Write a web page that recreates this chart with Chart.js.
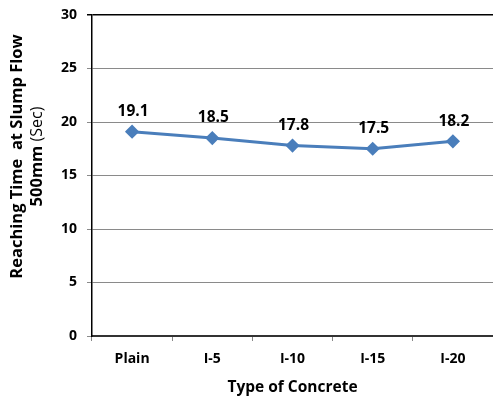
<!DOCTYPE html>
<html>
<head>
<meta charset="utf-8">
<script src="https://cdn.jsdelivr.net/npm/chart.js@4/dist/chart.umd.min.js"></script>
<style>
  html, body { margin: 0; padding: 0; background: #fff; }
  #wrap { width: 493px; height: 403px; }
</style>
</head>
<body>
<div id="wrap"><canvas id="c" width="493" height="403"></canvas></div>
<script>
  var categories = ['Plain', 'I-5', 'I-10', 'I-15', 'I-20'];
  var reachingTime = [19.1, 18.5, 17.8, 17.5, 18.2];
  var yTicks = [0, 5, 10, 15, 20, 25, 30];

  var FONT = "'Open Sans', 'DejaVu Sans', sans-serif";

  // value labels above each point
  var valueLabels = {
    id: 'valueLabels',
    afterDatasetsDraw: function (chart) {
      var ctx = chart.ctx;
      var meta = chart.getDatasetMeta(0);
      ctx.save();
      ctx.font = 'bold 15.5px ' + FONT;
      ctx.fillStyle = '#000';
      ctx.textAlign = 'center';
      ctx.textBaseline = 'middle';
      meta.data.forEach(function (pt, i) {
        ctx.fillText(reachingTime[i].toFixed(1), pt.x + 1, pt.y - 20);
      });
      ctx.restore();
    }
  };

  // rotated y title, mixed weights on the second line
  var yTitle = {
    id: 'yTitle',
    afterDraw: function (chart) {
      var ctx = chart.ctx;
      var area = chart.chartArea;
      var cy = (area.top + area.bottom) / 2 - 19;
      ctx.save();
      ctx.translate(0, cy);
      ctx.rotate(-Math.PI / 2);
      ctx.fillStyle = '#000';
      ctx.textBaseline = 'middle';
      ctx.textAlign = 'center';
      ctx.font = 'bold 16.5px ' + FONT;
      ctx.fillText('Reaching Time  at Slump Flow', 0, 17);
      var a = '500mm ';
      var b = '(Sec)';
      var wa = ctx.measureText(a).width;
      ctx.font = '16px ' + FONT;
      var wb = ctx.measureText(b).width;
      var x0 = -(wa + wb) / 2;
      ctx.textAlign = 'left';
      ctx.font = 'bold 16.5px ' + FONT;
      ctx.fillText(a, x0, 37);
      ctx.font = '16px ' + FONT;
      ctx.fillText(b, x0 + wa, 37);
      ctx.restore();
    }
  };

  new Chart(document.getElementById('c'), {
    type: 'line',
    data: {
      labels: categories,
      datasets: [
        {
          data: reachingTime,
          borderColor: '#4a7ebb',
          backgroundColor: '#4a7ebb',
          borderWidth: 3,
          pointStyle: 'rectRot',
          pointRadius: 5,
          pointHoverRadius: 5,
          tension: 0
        }
      ]
    },
    options: {
      responsive: false,
      animation: false,
      layout: {
        autoPadding: false,
        padding: { top: 15, right: 0, left: 0, bottom: 0 }
      },
      plugins: {
        legend: { display: false },
        tooltip: { enabled: false }
      },
      scales: {
        x: {
          offset: true,
          grid: {
            offset: true,
            drawOnChartArea: false,
            tickLength: 5,
            color: '#888'
          },
          border: { color: '#333', width: 2 },
          ticks: {
            padding: 10,
            color: '#000',
            font: { family: FONT, size: 14, weight: 'bold' }
          },
          title: {
            display: true,
            text: 'Type of Concrete',
            color: '#000',
            font: { family: FONT, size: 15.5, weight: 'bold' },
            padding: { top: 0, bottom: 6 }
          },
          afterFit: function (scale) {
            scale.height = 67;
            scale.paddingLeft = 0;
            scale.paddingRight = 0;
          }
        },
        y: {
          min: 0,
          max: 30,
          afterBuildTicks: function (scale) {
            scale.ticks = yTicks.map(function (v) {
              return { value: v };
            });
          },
          grid: {
            tickLength: 5,
            color: function (c) {
              return c.tick && c.tick.value === 30 ? '#000' : '#8a8a8a';
            },
            lineWidth: function (c) {
              return c.tick && c.tick.value === 30 ? 1.5 : 1;
            }
          },
          border: { color: '#000', width: 1.5 },
          ticks: {
            padding: 10,
            color: '#000',
            font: { family: FONT, size: 14, weight: 'bold' }
          },
          afterFit: function (scale) {
            scale.width = 92;
            scale.paddingTop = 0;
            scale.paddingBottom = 0;
          }
        }
      }
    },
    plugins: [valueLabels, yTitle]
  });
</script>
</body>
</html>
